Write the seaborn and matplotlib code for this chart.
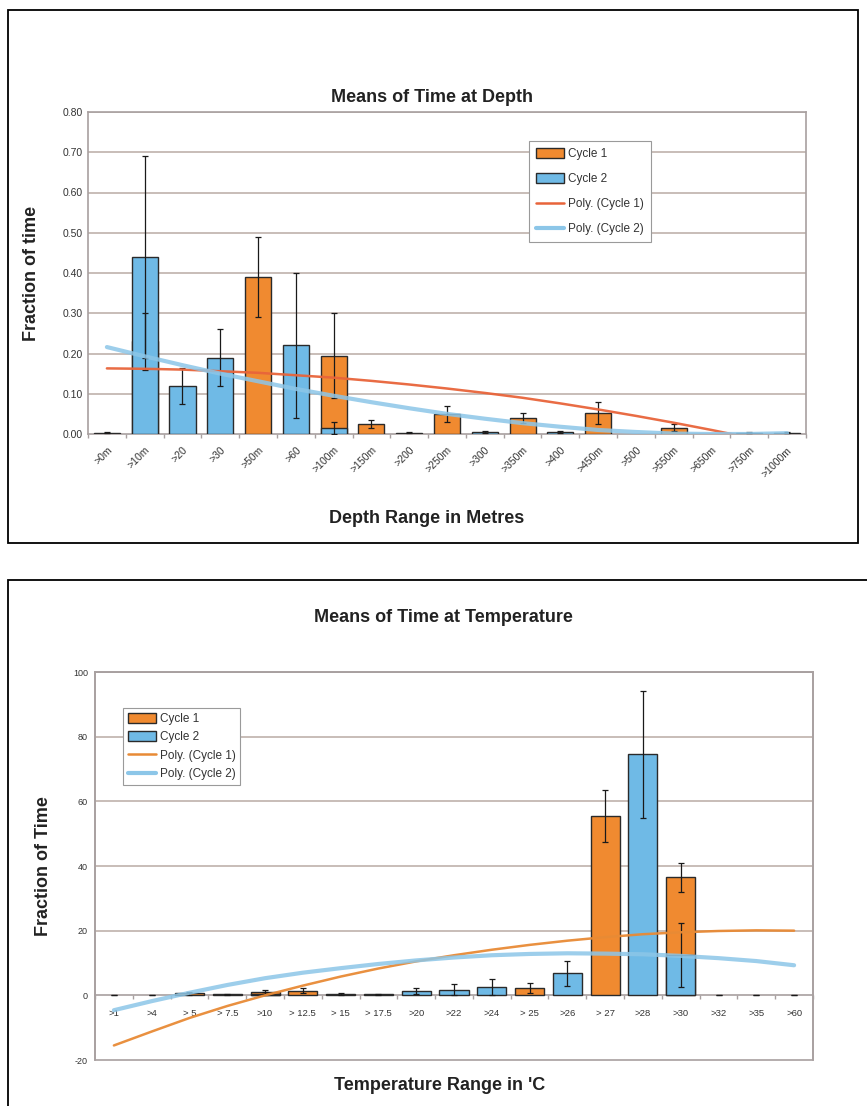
import numpy as np
import pandas as pd
import matplotlib
matplotlib.use("Agg")
import matplotlib.pyplot as plt
import seaborn as sns
from matplotlib.patches import Rectangle, Patch
from matplotlib.lines import Line2D

# ---------------- data: depth ----------------
depth_labels = [">0m", ">10m", ">20", ">30", ">50m", ">60", ">100m", ">150m", ">200", ">250m",
                ">300", ">350m", ">400", ">450m", ">500", ">550m", ">650m", ">750m", ">1000m"]
depth_c1 = [0.0, 0.23, 0.0, 0.0, 0.39, 0.0, 0.195, 0.025, 0.0, 0.05,
            0.0, 0.04, 0.0, 0.052, 0.0, 0.016, 0.0, 0.0, 0.0]
depth_c1_err = [np.nan, 0.07, np.nan, np.nan, 0.10, np.nan, 0.105, 0.01, np.nan, 0.02,
                np.nan, 0.012, np.nan, 0.027, np.nan, 0.009, np.nan, np.nan, np.nan]
depth_c2 = [0.003, 0.44, 0.12, 0.19, 0.0, 0.22, 0.015, 0.0, 0.003, 0.0,
            0.005, 0.0, 0.005, 0.0, 0.0, 0.0, 0.0, 0.003, 0.003]
depth_c2_err = [0.001, 0.25, 0.045, 0.07, np.nan, 0.18, 0.015, np.nan, 0.001, np.nan,
                0.002, np.nan, 0.002, np.nan, np.nan, np.nan, np.nan, 0.001, 0.001]
depth_trend_c1 = [0.163, 0.162, 0.160, 0.156, 0.152, 0.146, 0.140, 0.132, 0.123, 0.113,
                  0.102, 0.090, 0.076, 0.061, 0.045, 0.028, 0.010, -0.009, -0.029]
depth_trend_c2 = [0.216, 0.193, 0.171, 0.150, 0.131, 0.112, 0.095, 0.079, 0.064, 0.050,
                  0.038, 0.027, 0.018, 0.010, 0.005, 0.001, 0.0, 0.0, 0.002]
depth_yticks = [0.0, 0.1, 0.2, 0.3, 0.4, 0.5, 0.6, 0.7, 0.8]

# ---------------- data: temperature ----------------
temp_labels = [">1", ">4", "> 5", "> 7.5", ">10", "> 12.5", "> 15", "> 17.5", ">20", ">22",
               ">24", "> 25", ">26", "> 27", ">28", ">30", ">32", ">35", ">60"]
temp_c1 = [0.0, 0.0, 0.6, 0.3, 0.9, 1.4, 0.4, 0.3, 0.0, 0.0,
           0.0, 2.3, 0.0, 55.5, 0.0, 36.5, 0.0, 0.0, 0.0]
temp_c1_err = [0.0, 0.0, 0.4, 0.1, 0.6, 0.8, 0.3, 0.2, np.nan, np.nan,
               np.nan, 1.5, np.nan, 8.0, np.nan, 4.5, 0.0, 0.0, 0.0]
temp_c2 = [0.0, 0.0, 0.0, 0.0, 0.5, 0.0, 0.0, 0.0, 1.4, 1.8,
           2.6, 0.0, 6.8, 0.0, 74.5, 12.5, 0.0, 0.0, 0.0]
temp_c2_err = [np.nan, np.nan, np.nan, np.nan, 0.4, np.nan, np.nan, np.nan, 1.0, 1.6,
               2.5, np.nan, 3.8, np.nan, 19.7, 10.0, np.nan, np.nan, np.nan]
temp_trend_c1 = [-15.5, -11.2, -7.0, -3.3, 0.0, 3.0, 5.8, 8.3, 10.5, 12.4,
                 14.1, 15.6, 16.9, 18.0, 18.9, 19.5, 19.9, 20.1, 20.0]
temp_trend_c2 = [-4.6, -1.8, 0.8, 3.2, 5.3, 7.0, 8.4, 9.7, 10.8, 11.7,
                 12.4, 12.8, 13.0, 12.9, 12.7, 12.2, 11.5, 10.6, 9.3]
temp_yticks = [-20, 0, 20, 40, 60, 80, 100]

series_names = ["Cycle 1", "Cycle 2", "Poly. (Cycle 1)", "Poly. (Cycle 2)"]

# ---------------- style ----------------
sns.set_theme(style="white")
plt.rcParams["font.family"] = ["Liberation Sans", "DejaVu Sans"]

ORANGE = "#F08A30"
BLUE = "#6FBAE6"
EDGE = "#2A2A2A"
GRID = "#C4B8B2"
FRAME = "#A8A0A0"
TXT = "#333333"

fig = plt.figure(figsize=(8.67, 11.06), dpi=100)
W, H = 867.0, 1106.0


def fx(px):
    return px / W


def fy(py):
    return 1 - py / H


ax1 = fig.add_axes([fx(88), fy(434), (806 - 88) / W, (434 - 112) / H])
ax2 = fig.add_axes([fx(95), fy(1060), (813 - 95) / W, (1060 - 672) / H])


def draw_panel(ax, labels, c1, c1e, c2, c2e, t1, t2, width, t1color, t1lw):
    df = pd.DataFrame({"cat": labels, "c1": c1, "c2": c2})
    sns.barplot(data=df, x="cat", y="c1", order=labels, color=ORANGE, saturation=1,
                width=width, edgecolor=EDGE, linewidth=1.0, errorbar=None, ax=ax, zorder=3)
    sns.barplot(data=df, x="cat", y="c2", order=labels, color=BLUE, saturation=1,
                width=width, edgecolor=EDGE, linewidth=1.0, errorbar=None, ax=ax, zorder=4)
    for p in ax.patches:
        if p.get_height() == 0:
            p.set_visible(False)
    x = np.arange(len(labels))
    ax.errorbar(x, c1, yerr=c1e, fmt="none", ecolor="#1A1A1A", elinewidth=0.9,
                capsize=2.5, capthick=0.9, zorder=6)
    ax.errorbar(x, c2, yerr=c2e, fmt="none", ecolor="#1A1A1A", elinewidth=0.9,
                capsize=2.5, capthick=0.9, zorder=6)
    sns.lineplot(x=x, y=t1, color=t1color, lw=t1lw, ax=ax, zorder=7, alpha=0.95)
    sns.lineplot(x=x, y=t2, color="#8CC6E8", lw=3.0, ax=ax, zorder=7, alpha=0.85)
    ax.set_xlim(-0.5, len(labels) - 0.5)
    ax.set_xlabel("")
    ax.set_ylabel("")
    ax.grid(False)
    for s in ax.spines.values():
        s.set_color(FRAME)
        s.set_linewidth(1.2)


# ---------- Depth panel ----------
draw_panel(ax1, depth_labels, depth_c1, depth_c1_err, depth_c2, depth_c2_err,
           depth_trend_c1, depth_trend_c2, 0.69, "#E8643A", 1.8)
ax1.set_ylim(0, 0.8)
ax1.set_yticks(depth_yticks)
ax1.set_yticklabels([f"{v:.2f}" for v in depth_yticks], fontsize=7.5, color=TXT)
for v in depth_yticks[1:]:
    ax1.axhline(v, color=GRID, lw=1.3, zorder=1)
ax1.set_xticks(np.arange(len(depth_labels)))
ax1.set_xticklabels(depth_labels, rotation=45, ha="right", rotation_mode="anchor",
                    fontsize=7.5, color=TXT)
ax1.tick_params(axis="x", which="major", length=0, pad=8)
ax1.set_xticks(np.arange(-0.5, len(depth_labels), 1), minor=True)
ax1.tick_params(axis="x", which="minor", length=3, color=FRAME, direction="out", bottom=True)
ax1.tick_params(axis="y", length=0, pad=4)

leg1 = [Patch(facecolor=ORANGE, edgecolor=EDGE, lw=1.0),
        Patch(facecolor=BLUE, edgecolor=EDGE, lw=1.0),
        Line2D([], [], color="#E8643A", lw=1.8),
        Line2D([], [], color="#8CC6E8", lw=3.0)]
l1 = ax1.legend(leg1, series_names, loc="upper left", bbox_to_anchor=(0.614, 0.91),
                fontsize=8.5, frameon=True, fancybox=False, edgecolor="#9A9A9A",
                framealpha=1, labelspacing=1.1, handlelength=2.4, handleheight=0.9,
                handletextpad=0.3, borderpad=0.6, borderaxespad=0)
l1.get_frame().set_linewidth(0.8)
for t in l1.get_texts():
    t.set_color(TXT)

# ---------- Temperature panel ----------
draw_panel(ax2, temp_labels, temp_c1, temp_c1_err, temp_c2, temp_c2_err,
           temp_trend_c1, temp_trend_c2, 0.77, "#E88A35", 1.8)
ax2.set_ylim(-20, 100)
ax2.set_yticks(temp_yticks)
ax2.set_yticklabels([str(v) for v in temp_yticks], fontsize=6.5, color=TXT)
for v in temp_yticks[2:]:
    ax2.axhline(v, color=GRID, lw=1.3, zorder=1)
ax2.spines["bottom"].set_position(("data", 0))
ax2.spines["bottom"].set_zorder(2)
ax2.add_patch(Rectangle((0, 0), 1, 1, transform=ax2.transAxes, fill=False,
                        edgecolor=FRAME, lw=1.2, zorder=8, clip_on=False))
ax2.set_xticks(np.arange(len(temp_labels)))
ax2.set_xticklabels(temp_labels, fontsize=6.8, color=TXT)
ax2.tick_params(axis="x", which="major", length=0, pad=10)
ax2.set_xticks(np.arange(-0.5, len(temp_labels), 1), minor=True)
ax2.tick_params(axis="x", which="minor", length=3, color=FRAME, direction="out", bottom=True)
ax2.tick_params(axis="y", length=0, pad=5)

leg2 = [Patch(facecolor=ORANGE, edgecolor=EDGE, lw=1.0),
        Patch(facecolor=BLUE, edgecolor=EDGE, lw=1.0),
        Line2D([], [], color="#E88A35", lw=1.8),
        Line2D([], [], color="#8CC6E8", lw=3.0)]
l2 = ax2.legend(leg2, series_names, loc="upper left", bbox_to_anchor=(0.039, 0.907),
                fontsize=8.5, frameon=True, fancybox=False, edgecolor="#9A9A9A",
                framealpha=1, labelspacing=0.55, handlelength=2.4, handleheight=0.9,
                handletextpad=0.3, borderpad=0.4, borderaxespad=0)
l2.get_frame().set_linewidth(0.8)
for t in l2.get_texts():
    t.set_color(TXT)

# ---------- titles / labels / panel boxes ----------
fig.text(fx(432), fy(97), "Means of Time at Depth", ha="center", va="center",
         fontsize=13, weight="bold", color="#222222")
fig.text(fx(427), fy(518), "Depth Range in Metres", ha="center", va="center",
         fontsize=13, weight="bold", color="#222222")
fig.text(fx(31), fy(273), "Fraction of time", ha="center", va="center", rotation=90,
         fontsize=13, weight="bold", color="#222222")
fig.text(fx(443), fy(618), "Means of Time at Temperature", ha="center", va="center",
         fontsize=13, weight="bold", color="#222222")
fig.text(fx(440), fy(1085), "Temperature Range in 'C", ha="center", va="center",
         fontsize=13, weight="bold", color="#222222")
fig.text(fx(44), fy(866), "Fraction of Time", ha="center", va="center", rotation=90,
         fontsize=13, weight="bold", color="#222222")

fig.add_artist(Rectangle((fx(8), fy(543)), (858 - 8) / W, (543 - 10) / H,
                         transform=fig.transFigure, fill=False, edgecolor="black", lw=1.3))
fig.add_artist(Rectangle((fx(8), -0.02), (870 - 8) / W, fy(580) + 0.02,
                         transform=fig.transFigure, fill=False, edgecolor="black", lw=1.3))

fig.savefig("out.png", dpi=100, facecolor="white")
